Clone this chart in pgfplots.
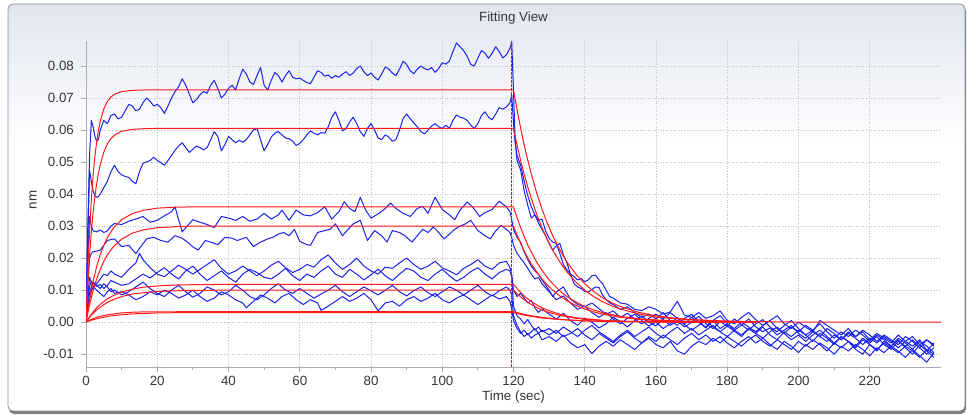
\documentclass[border=0pt]{standalone}
\usepackage{fontspec}
\setmainfont{Liberation Sans}
\usepackage{pgfplots}
\pgfplotsset{compat=1.18}
\definecolor{trace}{RGB}{25,35,235}
\definecolor{fit}{RGB}{255,25,25}
\definecolor{stepline}{RGB}{205,30,30}
\definecolor{txt}{RGB}{55,55,55}
\definecolor{gridc}{RGB}{190,190,195}
\definecolor{axc}{RGB}{170,172,178}
\definecolor{bgtop}{RGB}{224,229,240}

\begin{document}
\fontsize{13.4}{16}\selectfont
\begin{tikzpicture}
\useasboundingbox (0bp,0bp) rectangle (973bp,415bp);
% panel with shadow and gradient
\fill[black!50, rounded corners=5bp] (9bp,1bp) rectangle (966bp,409bp);
\begin{scope}
  \clip[rounded corners=5bp] (8bp,4bp) rectangle (965bp,411bp);
  \fill[white] (8bp,4bp) rectangle (965bp,411bp);
  \shade[top color=bgtop, bottom color=white] (8bp,270bp) rectangle (965bp,411bp);
\end{scope}
\draw[black!45, line width=0.8bp, rounded corners=5bp] (8bp,4bp) rectangle (965bp,411bp);

\begin{axis}[
  at={(86bp,48bp)}, anchor=south west,
  scale only axis, width=855bp, height=326bp,
  xmin=0, xmax=240, ymin=-0.014, ymax=0.0878,
  axis x line*=bottom, axis y line*=left,
  axis line style={axc, line width=0.8bp},
  tick align=outside,
  major tick length=5bp, minor tick length=3bp,
  tick style={axc, line width=0.8bp},
  xtick={0,20,40,60,80,100,120,140,160,180,200,220},
  xticklabels={0,20,40,60,80,100,120,140,160,180,200,220},
  minor x tick num=1,
  scaled y ticks=false,
  ytick={-0.01,0,0.01,0.02,0.03,0.04,0.05,0.06,0.07,0.08},
  yticklabels={-0.01,0.00,0.01,0.02,0.03,0.04,0.05,0.06,0.07,0.08},
  ymajorgrids, xmajorgrids,
  major grid style={gridc, line width=0.8bp, dash pattern=on 1bp off 1.6bp},
  ticklabel style={text=txt, font=\fontsize{13.4}{16}\selectfont},
  yticklabel style={xshift=-2.5bp},
  title={Fitting View},
  title style={at={(axis description cs:0.5,1)}, anchor=center, yshift=17bp, text=txt},
  xlabel={Time (sec)},
  xlabel style={at={(axis description cs:0.5,0)}, anchor=center, yshift=-30bp, text=txt},
  ylabel={nm},
  % the label is rotated first, so yshift moves it left and xshift moves it up
  ylabel style={at={(axis description cs:0,0.5)}, anchor=center, yshift=53bp, xshift=4bp, text=txt},
  no markers,
  every axis plot/.append style={line width=1bp, line join=round},
]
% ---- measured traces (blue)
\addplot[trace] coordinates {
(0,0.0040)(0.5,0.0300)(1,0.0520)(1.5,0.0630)(2,0.0610)(2.5,0.0580)(3,0.0565)(3.5,0.0570)(4,0.0600)(5,0.0630)(6,0.0620)(7,0.0645)(8,0.0650)(9,0.0635)(10,0.0640)(11,0.0660)(12,0.0680)(13,0.0675)(14,0.0660)(15,0.0665)(16,0.0685)(17,0.0700)(18,0.0690)(19,0.0675)(20,0.0680)(21,0.0670)(22,0.0652)(23,0.0675)(24,0.0700)(25,0.0720)(26,0.0735)(27,0.0760)(28,0.0740)(29,0.0712)(30,0.0685)(31,0.0695)(32,0.0710)(33,0.0720)(34,0.0715)(35,0.0740)(36,0.0755)(37,0.0730)(38,0.0700)(39,0.0712)(40,0.0730)(41,0.0740)(42,0.0725)(43,0.0760)(44,0.0790)(45,0.0775)(46,0.0750)(47,0.0742)(48,0.0770)(49,0.0795)(50,0.0740)(51,0.0725)(52,0.0755)(53,0.0780)(54,0.0770)(55,0.0750)(56,0.0770)(57,0.0785)(58,0.0765)(59,0.0760)(60,0.0762)
(61,0.0755)(62,0.0748)(63,0.0745)(64,0.0765)(65,0.0785)(66,0.0780)(67,0.0768)(68,0.0772)(69,0.0762)(70,0.0770)(71,0.0765)(72,0.0775)(73,0.0782)(74,0.0770)(75,0.0778)(76,0.0792)(77,0.0800)(78,0.0782)(79,0.0770)(80,0.0778)(81,0.0765)(82,0.0756)(83,0.0775)(84,0.0797)(85,0.0790)(86,0.0778)(87,0.0770)(88,0.0790)(89,0.0815)(90,0.0805)(91,0.0785)(92,0.0776)(93,0.0790)(94,0.0800)(95,0.0792)(96,0.0788)(97,0.0795)(98,0.0780)(99,0.0792)(100,0.0810)(101,0.0806)(102,0.0815)(103,0.0845)(104,0.0872)(105,0.0860)(106,0.0848)(107,0.0830)(108,0.0805)(109,0.0800)(110,0.0825)(111,0.0848)(112,0.0840)(113,0.0824)(114,0.0840)(115,0.0860)(116,0.0845)(117,0.0825)(118,0.0835)(119,0.0855)(119.5,0.0875)
(120,0.0720)(120.5,0.0560)(121,0.0505)(122,0.0475)(123,0.0410)(124,0.0365)(125,0.0325)(126,0.0335)(127,0.0318)(128,0.0322)(129,0.0285)(130,0.0262)(131,0.0250)(132,0.0246)(133,0.0215)(134,0.0180)(135,0.0163)(136,0.0150)(137,0.0142)(138,0.0132)(139,0.0136)(140,0.0126)(141,0.0132)(142,0.0145)(143,0.0147)(144,0.0132)(145,0.0120)(146,0.0100)(147,0.0080)(148,0.0075)(150,0.0060)(152,0.0056)(154,0.0040)(156,0.0036)(158,0.0048)(160,0.0040)(162,0.0025)(164,0.0032)(166,0.0065)(168,0.0022)(170,0.0015)(172,0.0030)(174,0.0012)(176,0.0020)(178,0.0035)(180,0.0005)(182,-0.0005)(184,0.0015)(186,0.0030)(188,0.0008)(190,-0.0010)(192,0.0005)(194,0.0020)(196,-0.0005)(198,-0.0020)(200,0.0000)(202,-0.0015)(204,-0.0030)(206,0.0005)(208,-0.0010)(210,-0.0025)(212,-0.0040)(214,-0.0020)(216,-0.0045)(218,-0.0030)(220,-0.0055)(222,-0.0035)(224,-0.0050)(226,-0.0065)(228,-0.0040)(230,-0.0060)(232,-0.0045)(234,-0.0070)(236,-0.0055)(238,-0.0075)
};
\addplot[trace] coordinates {
(0,0.0030)(0.5,0.0250)(1,0.0475)(1.5,0.0440)(2,0.0410)(2.5,0.0395)(3,0.0390)(3.5,0.0392)(4,0.0400)(5,0.0420)(6,0.0440)(7,0.0470)(8,0.0490)(9,0.0470)(10,0.0460)(11,0.0455)(12,0.0452)(13,0.0440)(14,0.0432)(15,0.0470)(16,0.0496)(17,0.0500)(18,0.0505)(19,0.0515)(20,0.0505)(21,0.0498)(22,0.0490)(23,0.0505)(24,0.0520)(25,0.0537)(26,0.0550)(27,0.0560)(28,0.0545)(29,0.0530)(30,0.0540)(31,0.0550)(32,0.0545)(33,0.0538)(34,0.0545)(35,0.0570)(36,0.0595)(37,0.0580)(38,0.0535)(39,0.0555)(40,0.0580)(41,0.0570)(42,0.0560)(43,0.0568)(44,0.0562)(45,0.0570)(46,0.0585)(47,0.0600)(48,0.0605)(49,0.0570)(50,0.0535)(51,0.0555)(52,0.0578)(53,0.0590)(54,0.0595)(55,0.0585)(56,0.0575)(57,0.0573)(58,0.0565)(59,0.0552)(60,0.0558)
(61,0.0570)(62,0.0585)(63,0.0597)(64,0.0590)(65,0.0585)(66,0.0592)(67,0.0590)(68,0.0610)(69,0.0640)(70,0.0657)(71,0.0630)(72,0.0597)(73,0.0605)(74,0.0625)(75,0.0640)(76,0.0620)(77,0.0595)(78,0.0580)(79,0.0605)(80,0.0620)(81,0.0600)(82,0.0575)(83,0.0570)(84,0.0585)(85,0.0578)(86,0.0565)(87,0.0570)(88,0.0600)(89,0.0635)(90,0.0650)(91,0.0635)(92,0.0623)(93,0.0610)(94,0.0595)(95,0.0588)(96,0.0600)(97,0.0612)(98,0.0620)(99,0.0610)(100,0.0605)(101,0.0615)(102,0.0605)(103,0.0630)(104,0.0647)(105,0.0640)(106,0.0637)(107,0.0630)(108,0.0615)(109,0.0605)(110,0.0620)(111,0.0645)(112,0.0657)(113,0.0640)(114,0.0632)(115,0.0650)(116,0.0670)(117,0.0665)(118,0.0672)(119,0.0685)(119.5,0.0710)
(120,0.0620)(120.5,0.0560)(121,0.0520)(122,0.0490)(123,0.0440)(124,0.0395)(125,0.0360)(126,0.0335)(127,0.0310)(128,0.0290)(129,0.0270)(130,0.0245)(131,0.0225)(132,0.0238)(133,0.0246)(134,0.0210)(135,0.0185)(136,0.0150)(137,0.0120)(138,0.0110)(139,0.0105)(140,0.0096)(141,0.0094)(142,0.0102)(143,0.0110)(144,0.0108)(145,0.0085)(146,0.0070)(147,0.0060)(148,0.0055)(150,0.0040)(152,0.0048)(154,0.0030)(156,0.0015)(158,0.0025)(160,0.0010)(162,0.0030)(164,0.0005)(166,-0.0010)(168,0.0012)(170,0.0025)(172,0.0000)(174,-0.0015)(176,0.0005)(178,-0.0020)(180,-0.0005)(182,-0.0025)(184,-0.0010)(186,0.0010)(188,-0.0015)(190,-0.0030)(192,-0.0018)(194,-0.0040)(196,-0.0025)(198,-0.0010)(200,-0.0035)(202,-0.0050)(204,-0.0030)(206,-0.0045)(208,-0.0060)(210,-0.0040)(212,-0.0055)(214,-0.0035)(216,-0.0050)(218,-0.0070)(220,-0.0050)(222,-0.0065)(224,-0.0045)(226,-0.0060)(228,-0.0080)(230,-0.0060)(232,-0.0075)(234,-0.0055)(236,-0.0090)(238,-0.0065)
};
\addplot[trace] coordinates {
(0,0.0020)(0.5,0.0200)(1,0.0330)(1.5,0.0300)(2,0.0285)(3,0.0282)(4,0.0288)(5,0.0280)(6,0.0285)(7,0.0300)(8,0.0308)(10,0.0305)(12,0.0315)(14,0.0322)(16,0.0330)(18,0.0312)(20,0.0318)(22,0.0332)(24,0.0345)(25,0.0360)(26,0.0320)(27,0.0282)(28,0.0295)(30,0.0320)(32,0.0312)(34,0.0305)(36,0.0295)(38,0.0330)(40,0.0325)(42,0.0318)(44,0.0330)(46,0.0315)(48,0.0322)(50,0.0340)(52,0.0322)(54,0.0335)(55,0.0350)(57,0.0318)(59,0.0350)(61,0.0335)(63,0.0332)(65,0.0342)(67,0.0360)(69,0.0322)(71,0.0345)(72.5,0.0376)(74,0.0355)(75.5,0.0345)(77,0.0390)(78.5,0.0350)(80,0.0325)(82,0.0338)(84,0.0355)(85.5,0.0372)(87,0.0355)(89,0.0340)(91,0.0330)(93,0.0355)(94.5,0.0362)(96,0.0340)(98,0.0390)(100,0.0352)(102,0.0335)(103.5,0.0320)(105,0.0350)(107,0.0375)(108.5,0.0360)(110.5,0.0330)(112,0.0342)(114,0.0352)(116,0.0378)(118,0.0360)(119,0.0345)(119.5,0.0320)
(120,0.0290)(121,0.0265)(122,0.0250)(123,0.0220)(124,0.0195)(125,0.0175)(126,0.0160)(127,0.0150)(128,0.0132)(130,0.0100)(131,0.0080)(132,0.0095)(134,0.0110)(136,0.0072)(138,0.0055)(140,0.0048)(142,0.0060)(144,0.0042)(146,0.0025)(148,0.0035)(150,0.0015)(152,0.0028)(154,0.0010)(156,-0.0005)(158,0.0012)(160,0.0025)(162,0.0008)(164,-0.0010)(166,0.0005)(168,-0.0015)(170,0.0000)(172,0.0018)(174,-0.0005)(176,-0.0020)(178,0.0002)(180,-0.0012)(182,0.0010)(184,-0.0008)(186,-0.0025)(188,-0.0005)(190,0.0008)(192,-0.0015)(194,-0.0030)(196,-0.0010)(198,0.0005)(200,-0.0020)(202,-0.0040)(204,-0.0025)(206,-0.0005)(208,-0.0030)(210,-0.0050)(212,-0.0030)(214,-0.0045)(216,-0.0025)(218,-0.0040)(220,-0.0060)(222,-0.0040)(224,-0.0055)(226,-0.0075)(228,-0.0050)(230,-0.0065)(232,-0.0085)(234,-0.0060)(236,-0.0075)(238,-0.0095)
};
\addplot[trace] coordinates {
(0,0.0010)(0.5,0.0120)(1,0.0200)(1.5,0.0215)(2,0.0220)(3,0.0222)(4,0.0225)(5,0.0240)(6,0.0255)(7,0.0258)(8,0.0260)(10,0.0236)(12,0.0240)(14,0.0214)(15,0.0230)(17,0.0260)(19,0.0265)(21,0.0255)(23,0.0250)(25,0.0270)(27,0.0262)(28.5,0.0250)(30,0.0235)(31.5,0.0225)(33.5,0.0255)(35,0.0250)(37,0.0242)(39,0.0265)(41,0.0262)(42.5,0.0255)(45,0.0265)(47,0.0236)(49,0.0250)(51,0.0260)(52.5,0.0265)(54,0.0275)(55.5,0.0280)(57,0.0270)(58.5,0.0290)(60,0.0252)(62,0.0242)(63,0.0240)(65,0.0280)(67,0.0286)(68.5,0.0290)(70,0.0307)(72,0.0270)(74,0.0295)(75,0.0307)(77,0.0318)(79,0.0255)(81,0.0286)(83,0.0270)(84.5,0.0250)(86,0.0286)(88,0.0280)(89.5,0.0270)(91.5,0.0250)(93,0.0270)(94.5,0.0290)(96,0.0280)(97.5,0.0297)(99,0.0280)(100.5,0.0260)(102,0.0275)(103.5,0.0290)(105,0.0300)(106.5,0.0307)(108,0.0318)(110,0.0286)(112,0.0270)(113.5,0.0260)(115,0.0285)(116.5,0.0302)(118,0.0290)(119,0.0280)(119.5,0.0265)
(120,0.0240)(121,0.0215)(122,0.0200)(123,0.0185)(124,0.0168)(125,0.0150)(126,0.0135)(127,0.0140)(128,0.0120)(130,0.0095)(132,0.0070)(134,0.0082)(136,0.0060)(138,0.0040)(140,0.0050)(142,0.0030)(144,0.0015)(146,0.0030)(148,0.0010)(150,-0.0005)(152,0.0012)(154,0.0025)(156,0.0005)(158,-0.0012)(160,0.0000)(162,-0.0020)(164,-0.0005)(166,0.0015)(168,-0.0008)(170,-0.0025)(172,-0.0010)(174,0.0005)(176,-0.0015)(178,-0.0030)(180,-0.0012)(182,-0.0028)(184,-0.0045)(186,-0.0020)(188,-0.0035)(190,-0.0015)(192,-0.0040)(194,-0.0055)(196,-0.0030)(198,-0.0045)(200,-0.0025)(202,-0.0040)(204,-0.0060)(206,-0.0035)(208,-0.0050)(210,-0.0070)(212,-0.0045)(214,-0.0060)(216,-0.0080)(218,-0.0055)(220,-0.0070)(222,-0.0090)(224,-0.0060)(226,-0.0075)(228,-0.0055)(230,-0.0080)(232,-0.0100)(234,-0.0070)(236,-0.0090)(238,-0.0110)
};
\addplot[trace] coordinates {
(0,0.0000)(0.5,0.0080)(1,0.0140)(1.5,0.0125)(2,0.0110)(3,0.0120)(4,0.0135)(5,0.0150)(6,0.0145)(7,0.0160)(8,0.0150)(10,0.0140)(12,0.0165)(14,0.0185)(15,0.0215)(16,0.0195)(18,0.0170)(20,0.0150)(22,0.0142)(24,0.0160)(26,0.0178)(28,0.0165)(30,0.0150)(32,0.0165)(34,0.0180)(36,0.0195)(38,0.0168)(40,0.0150)(42,0.0160)(44,0.0175)(46,0.0160)(48,0.0145)(50,0.0160)(52,0.0178)(54,0.0190)(56,0.0170)(58,0.0155)(60,0.0165)(62,0.0180)(64,0.0172)(66,0.0195)(68,0.0210)(70,0.0185)(72,0.0165)(74,0.0180)(76,0.0200)(78,0.0175)(80,0.0160)(82,0.0150)(84,0.0172)(86,0.0168)(88,0.0185)(90,0.0200)(92,0.0180)(94,0.0165)(96,0.0175)(98,0.0190)(100,0.0170)(102,0.0160)(104,0.0148)(106,0.0168)(108,0.0180)(110,0.0195)(112,0.0175)(114,0.0165)(116,0.0185)(118,0.0190)(119,0.0170)(119.5,0.0150)
(120,0.0100)(121,0.0080)(122,0.0090)(123,0.0075)(124,0.0060)(125,0.0068)(126,0.0045)(127,0.0030)(128,0.0042)(130,0.0025)(132,0.0010)(134,0.0028)(136,0.0005)(138,-0.0010)(140,0.0012)(142,0.0000)(144,-0.0018)(146,-0.0005)(148,0.0015)(150,0.0002)(152,-0.0015)(154,0.0005)(156,0.0020)(158,0.0000)(160,-0.0012)(162,0.0010)(164,0.0030)(166,0.0012)(168,-0.0005)(170,0.0015)(172,0.0000)(174,-0.0018)(176,0.0005)(178,0.0020)(180,-0.0005)(182,-0.0020)(184,0.0000)(186,-0.0015)(188,-0.0030)(190,-0.0010)(192,0.0005)(194,-0.0020)(196,-0.0035)(198,-0.0015)(200,-0.0030)(202,-0.0010)(204,-0.0025)(206,-0.0045)(208,-0.0020)(210,-0.0035)(212,-0.0055)(214,-0.0030)(216,-0.0045)(218,-0.0025)(220,-0.0040)(222,-0.0060)(224,-0.0040)(226,-0.0055)(228,-0.0070)(230,-0.0045)(232,-0.0060)(234,-0.0080)(236,-0.0055)(238,-0.0070)
};
\addplot[trace] coordinates {
(0,0.0010)(0.5,0.0070)(1,0.0110)(1.5,0.0128)(2,0.0120)(3,0.0112)(4,0.0118)(5,0.0105)(6,0.0115)(7,0.0130)(8,0.0125)(10,0.0115)(12,0.0120)(14,0.0135)(16,0.0150)(18,0.0138)(20,0.0155)(22,0.0170)(24,0.0150)(26,0.0135)(28,0.0160)(30,0.0175)(32,0.0150)(34,0.0130)(36,0.0145)(38,0.0160)(40,0.0140)(42,0.0125)(44,0.0150)(46,0.0165)(48,0.0155)(50,0.0140)(52,0.0135)(54,0.0150)(56,0.0168)(58,0.0145)(60,0.0130)(62,0.0150)(64,0.0140)(66,0.0160)(68,0.0175)(70,0.0150)(72,0.0140)(74,0.0165)(76,0.0150)(78,0.0132)(80,0.0148)(82,0.0165)(84,0.0145)(86,0.0130)(88,0.0150)(90,0.0168)(92,0.0160)(94,0.0140)(96,0.0130)(98,0.0150)(100,0.0165)(102,0.0145)(104,0.0128)(106,0.0140)(108,0.0158)(110,0.0170)(112,0.0150)(114,0.0135)(116,0.0155)(118,0.0165)(119,0.0160)(119.5,0.0140)
(120,0.0050)(121,0.0020)(122,0.0010)(123,-0.0005)(124,0.0008)(125,-0.0010)(126,-0.0025)(127,-0.0015)(128,-0.0030)(130,-0.0020)(132,-0.0035)(134,-0.0015)(136,-0.0030)(138,-0.0045)(140,-0.0025)(142,-0.0010)(144,-0.0030)(146,-0.0045)(148,-0.0060)(150,-0.0040)(152,-0.0025)(154,-0.0045)(156,-0.0030)(158,-0.0015)(160,-0.0035)(162,-0.0050)(164,-0.0030)(166,-0.0015)(168,-0.0035)(170,-0.0020)(172,-0.0040)(174,-0.0025)(176,-0.0010)(178,-0.0030)(180,-0.0045)(182,-0.0025)(184,-0.0040)(186,-0.0020)(188,-0.0035)(190,-0.0050)(192,-0.0030)(194,-0.0015)(196,-0.0035)(198,-0.0055)(200,-0.0040)(202,-0.0060)(204,-0.0040)(206,-0.0025)(208,-0.0045)(210,-0.0065)(212,-0.0045)(214,-0.0060)(216,-0.0075)(218,-0.0050)(220,-0.0065)(222,-0.0045)(224,-0.0070)(226,-0.0085)(228,-0.0060)(230,-0.0075)(232,-0.0055)(234,-0.0080)(236,-0.0100)(238,-0.0080)
};
\addplot[trace] coordinates {
(0,0.0005)(0.5,0.0050)(1,0.0090)(1.5,0.0110)(2,0.0125)(3,0.0115)(4,0.0105)(5,0.0120)(6,0.0110)(7,0.0095)(8,0.0100)(10,0.0085)(12,0.0095)(14,0.0110)(16,0.0125)(18,0.0105)(20,0.0090)(22,0.0080)(24,0.0100)(26,0.0115)(28,0.0095)(30,0.0078)(32,0.0090)(34,0.0110)(36,0.0100)(38,0.0085)(40,0.0095)(42,0.0115)(44,0.0100)(46,0.0080)(48,0.0070)(50,0.0085)(52,0.0105)(54,0.0120)(56,0.0100)(58,0.0090)(60,0.0105)(62,0.0090)(64,0.0075)(66,0.0088)(68,0.0100)(70,0.0115)(72,0.0095)(74,0.0080)(76,0.0095)(78,0.0110)(80,0.0098)(82,0.0085)(84,0.0100)(86,0.0115)(88,0.0095)(90,0.0082)(92,0.0098)(94,0.0110)(96,0.0092)(98,0.0080)(100,0.0095)(102,0.0110)(104,0.0100)(106,0.0085)(108,0.0100)(110,0.0115)(112,0.0095)(114,0.0082)(116,0.0098)(118,0.0110)(119,0.0100)(119.5,0.0085)
(120,0.0020)(121,-0.0010)(122,-0.0030)(123,-0.0045)(124,-0.0035)(125,-0.0050)(126,-0.0040)(127,-0.0035)(128,-0.0055)(130,-0.0045)(132,-0.0060)(134,-0.0040)(136,-0.0065)(138,-0.0080)(140,-0.0070)(142,-0.0098)(144,-0.0075)(146,-0.0060)(148,-0.0075)(150,-0.0055)(152,-0.0070)(154,-0.0085)(156,-0.0065)(158,-0.0050)(160,-0.0070)(162,-0.0080)(164,-0.0060)(166,-0.0090)(168,-0.0100)(170,-0.0075)(172,-0.0060)(174,-0.0070)(176,-0.0050)(178,-0.0065)(180,-0.0045)(182,-0.0060)(184,-0.0075)(186,-0.0055)(188,-0.0040)(190,-0.0060)(192,-0.0075)(194,-0.0055)(196,-0.0070)(198,-0.0085)(200,-0.0060)(202,-0.0075)(204,-0.0055)(206,-0.0070)(208,-0.0090)(210,-0.0065)(212,-0.0080)(214,-0.0060)(216,-0.0085)(218,-0.0100)(220,-0.0070)(222,-0.0085)(224,-0.0065)(226,-0.0080)(228,-0.0095)(230,-0.0075)(232,-0.0090)(234,-0.0110)(236,-0.0085)(238,-0.0100)
};
\addplot[trace] coordinates {
(0,0.0000)(0.5,0.0040)(1,0.0070)(1.5,0.0095)(2,0.0110)(3,0.0100)(4,0.0090)(5,0.0080)(6,0.0095)(7,0.0105)(8,0.0090)(10,0.0095)(12,0.0085)(14,0.0070)(16,0.0080)(18,0.0095)(20,0.0085)(22,0.0100)(24,0.0090)(26,0.0075)(28,0.0085)(30,0.0100)(32,0.0080)(34,0.0065)(36,0.0075)(38,0.0095)(40,0.0085)(42,0.0070)(44,0.0060)(45,0.0045)(47,0.0065)(49,0.0085)(51,0.0075)(53,0.0060)(55,0.0080)(57,0.0090)(59,0.0070)(61,0.0055)(63,0.0070)(65,0.0060)(66,0.0037)(68,0.0050)(70,0.0065)(72,0.0080)(74,0.0065)(76,0.0075)(78,0.0090)(80,0.0070)(82,0.0035)(84,0.0060)(86,0.0065)(88,0.0050)(90,0.0070)(92,0.0080)(94,0.0065)(96,0.0075)(98,0.0090)(100,0.0070)(102,0.0060)(104,0.0075)(106,0.0085)(108,0.0070)(110,0.0055)(112,0.0070)(114,0.0085)(116,0.0072)(118,0.0080)(119,0.0065)(119.5,0.0040)
(120,0.0005)(121,-0.0020)(122,-0.0035)(123,-0.0025)(124,-0.0040)(125,-0.0030)(126,-0.0020)(127,-0.0035)(128,-0.0025)(130,-0.0040)(132,-0.0025)(134,-0.0045)(136,-0.0035)(138,-0.0020)(140,-0.0040)(142,-0.0055)(144,-0.0035)(146,-0.0050)(148,-0.0065)(150,-0.0045)(152,-0.0030)(154,-0.0050)(156,-0.0065)(158,-0.0045)(160,-0.0060)(162,-0.0040)(164,-0.0055)(166,-0.0070)(168,-0.0050)(170,-0.0035)(172,-0.0055)(174,-0.0040)(176,-0.0060)(178,-0.0045)(180,-0.0065)(182,-0.0080)(184,-0.0060)(186,-0.0045)(188,-0.0065)(190,-0.0050)(192,-0.0070)(194,-0.0085)(196,-0.0060)(198,-0.0075)(200,-0.0095)(202,-0.0070)(204,-0.0085)(206,-0.0065)(208,-0.0080)(210,-0.0100)(212,-0.0075)(214,-0.0090)(216,-0.0070)(218,-0.0085)(220,-0.0105)(222,-0.0080)(224,-0.0095)(226,-0.0075)(228,-0.0090)(230,-0.0110)(232,-0.0085)(234,-0.0105)(236,-0.0125)(238,-0.0095)
};
% ---- fitted curves (red)
\addplot[fit] coordinates {
(0,0)(0.5,0.0160)(1,0.0285)(1.5,0.0383)(2,0.0458)(2.5,0.0518)(3,0.0563)(3.5,0.0599)(4,0.0627)(5,0.0666)(6,0.0689)(7,0.0703)(8,0.0712)(10,0.0720)(13,0.0724)(16,0.0725)(119.5,0.0725)
(120,0.0725)(121,0.0663)(122,0.0606)(123,0.0553)(124,0.0506)(125,0.0463)(126.5,0.0404)(128,0.0353)(129.5,0.0309)(131,0.0270)(133,0.0226)(135,0.0188)(137.5,0.0150)(140,0.0120)(142.5,0.0096)(145,0.0076)(147.5,0.0061)(150,0.0049)(155,0.0031)(160,0.0020)(165,0.0013)(170,0.0008)(180,0.0003)(188,0.0002)(200,0)(240,0)
};
\addplot[fit] coordinates {
(0,0)(0.5,0.0115)(1,0.0208)(1.5,0.0283)(2,0.0344)(2.5,0.0393)(3,0.0433)(3.5,0.0466)(4,0.0492)(5,0.0531)(6,0.0557)(7,0.0573)(8,0.0584)(10,0.0596)(13,0.0602)(16,0.0604)(20,0.0605)(119.5,0.0605)
(120,0.0605)(121,0.0553)(122,0.0505)(123,0.0462)(124,0.0422)(125,0.0386)(126.5,0.0337)(128,0.0295)(129.5,0.0258)(131,0.0225)(133,0.0188)(135,0.0157)(137.5,0.0125)(140,0.0100)(142.5,0.0080)(145,0.0064)(147.5,0.0051)(150,0.0041)(155,0.0026)(160,0.0016)(165,0.0011)(170,0.0007)(180,0.0003)(188,0.0001)
};
\addplot[fit] coordinates {
(0,0)(1,0.0071)(2,0.0128)(3,0.0174)(4,0.0211)(5,0.0240)(6,0.0264)(7,0.0282)(8,0.0298)(10,0.0320)(13,0.0339)(16,0.0349)(20,0.0356)(25,0.0359)(30,0.0360)(119.5,0.0360)
(120,0.0360)(121,0.0326)(122,0.0295)(123,0.0267)(124,0.0241)(125,0.0219)(126.5,0.0188)(128,0.0162)(129.5,0.0139)(131,0.0120)(133,0.0098)(135,0.0080)(137.5,0.0063)(140,0.0049)(142.5,0.0038)(145,0.0030)(150,0.0018)(155,0.0011)(160,0.0007)(170,0.0002)(188,0)
};
\addplot[fit] coordinates {
(0,0)(1,0.0054)(2,0.0099)(3,0.0135)(4,0.0165)(5,0.0190)(6,0.0210)(7,0.0226)(8,0.0239)(10,0.0259)(13,0.0278)(16,0.0288)(20,0.0295)(25,0.0298)(30,0.0300)(119.5,0.0300)
(120,0.0300)(121,0.0272)(122,0.0246)(123,0.0222)(124,0.0201)(125,0.0182)(126.5,0.0157)(128,0.0135)(129.5,0.0116)(131,0.0100)(133,0.0082)(135,0.0067)(137.5,0.0052)(140,0.0041)(142.5,0.0032)(145,0.0025)(150,0.0015)(155,0.0009)(160,0.0005)(170,0.0002)(188,0)
};
\addplot[fit] coordinates {
(0,0)(1,0.0017)(2,0.0032)(3,0.0045)(4,0.0056)(6,0.0073)(8,0.0085)(10,0.0094)(13,0.0103)(16,0.0109)(20,0.0113)(25,0.0116)(30,0.0117)(40,0.0118)(119.5,0.0118)
(120,0.0118)(121,0.0105)(122,0.0093)(123,0.0082)(124,0.0073)(125,0.0065)(126.5,0.0054)(128,0.0045)(129.5,0.0038)(131,0.0032)(133,0.0025)(135,0.0019)(137.5,0.0014)(140,0.0011)(145,0.0006)(150,0.0003)(160,0.0001)(170,0)(188,0)
};
\addplot[fit] coordinates {
(0,0)(1,0.0015)(2,0.0027)(3,0.0038)(4,0.0047)(6,0.0062)(8,0.0072)(10,0.0080)(13,0.0088)(16,0.0092)(20,0.0096)(25,0.0098)(30,0.0099)(40,0.0100)(119.5,0.0100)
(120,0.0100)(121,0.0089)(122,0.0079)(123,0.0070)(124,0.0062)(125,0.0055)(126.5,0.0046)(128,0.0038)(129.5,0.0032)(131,0.0027)(133,0.0021)(135,0.0017)(137.5,0.0012)(140,0.0009)(145,0.0005)(150,0.0003)(160,0.0001)(170,0)(188,0)
};
\addplot[fit] coordinates {
(0,0)(1,0.0006)(2,0.0011)(3,0.0015)(4,0.0018)(6,0.0023)(8,0.0026)(10,0.0029)(13,0.0031)(16,0.0032)(20,0.0032)(30,0.0033)(119.5,0.0033)
(120,0.0033)(121,0.0030)(123,0.0024)(125,0.0020)(128,0.0015)(131,0.0011)(135,0.0007)(140,0.0004)(145,0.0003)(150,0.0002)(160,0.0001)(170,0)(188,0)
};
\addplot[fit] coordinates {
(0,0)(1,0.0004)(2,0.0008)(4,0.0013)(6,0.0018)(8,0.0021)(10,0.0023)(13,0.0026)(16,0.0027)(20,0.0029)(30,0.0030)(119.5,0.0030)
(120,0.0030)(121,0.0027)(123,0.0022)(125,0.0018)(128,0.0013)(131,0.0010)(135,0.0007)(140,0.0004)(145,0.0002)(150,0.0002)(160,0.0001)(170,0)(188,0)
};
% ---- association / dissociation step
\addplot[stepline, line width=0.9bp, dash pattern=on 2.5bp off 1.5bp] coordinates {(119.5,-0.014) (119.5,0.0878)};
\end{axis}
\end{tikzpicture}
\end{document}
